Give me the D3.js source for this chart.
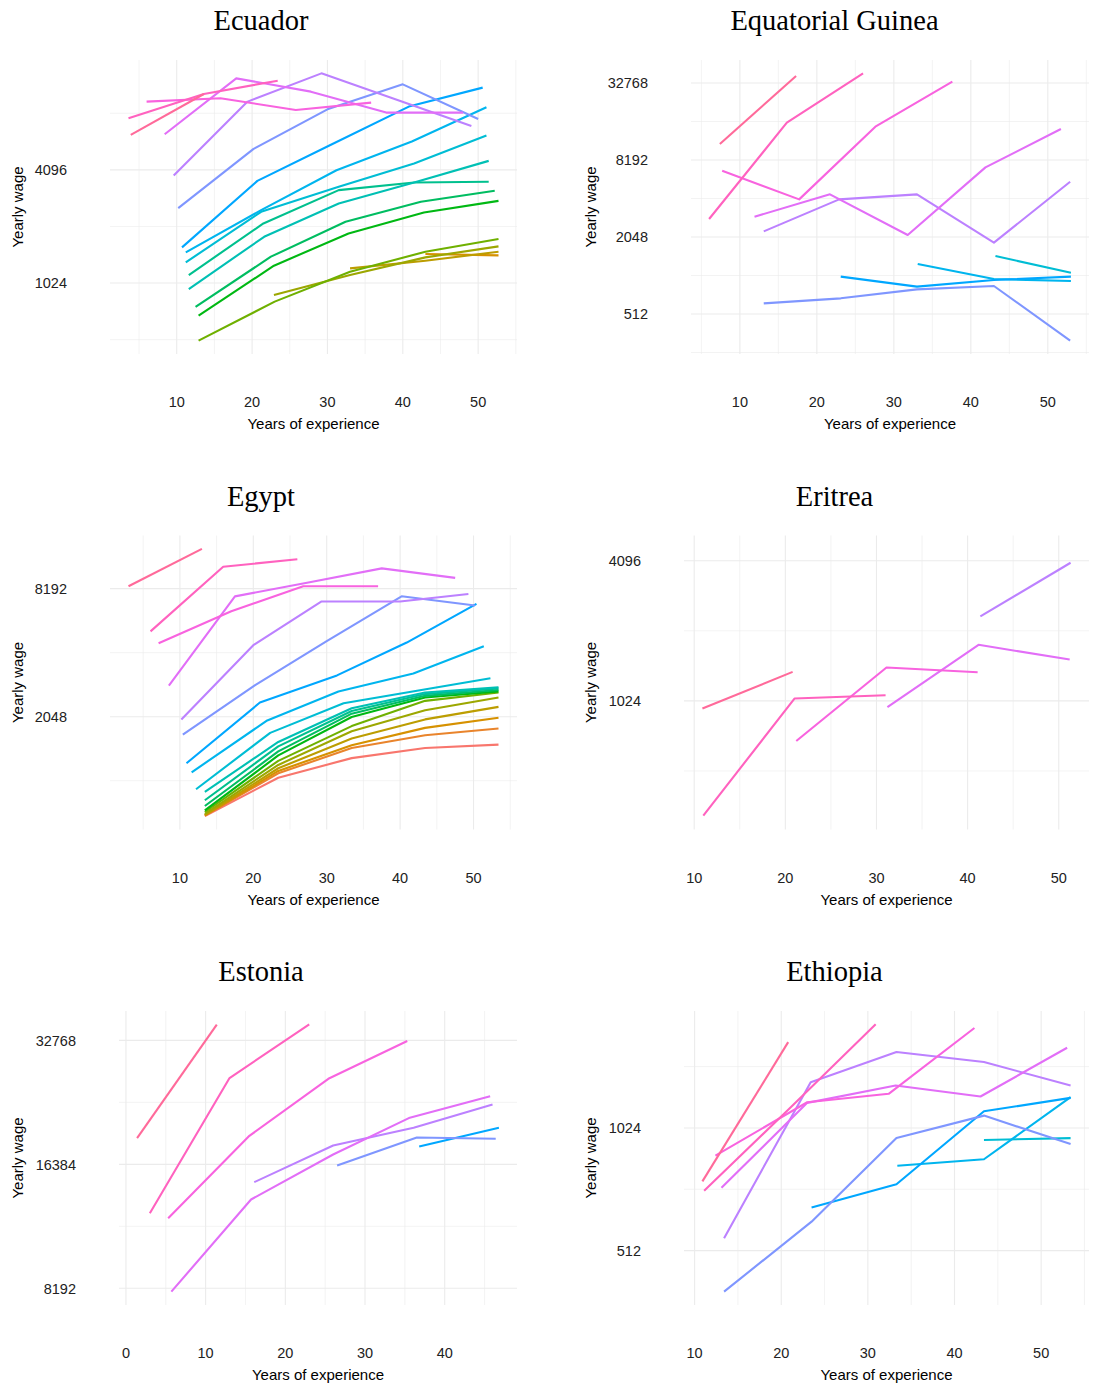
<!DOCTYPE html>
<html>
<head>
<meta charset="utf-8">
<script src="https://cdn.jsdelivr.net/npm/d3@7"></script>
<style>
  body { margin: 0; background: #fff; }
  svg text { font-family: "Liberation Sans", Arial, sans-serif; }
  .title { font-family: "Liberation Serif", "DejaVu Serif", serif; }
</style>
</head>
<body>
<svg id="chart" width="1095" height="1389"></svg>
<script>
// cohorts are coloured with the default ggplot hue palette
const nCohorts = 19

// each cohort: years of experience and yearly wage at each survey
const ecuador = [
  { cohort: 2, exp: [43.0, 52.7], wage: [1461, 1437] },
  { cohort: 3, exp: [33.0, 43.0, 52.7], wage: [1226, 1347, 1503] },
  { cohort: 4, exp: [22.9, 33.0, 43.0, 52.7], wage: [885, 1130, 1403, 1605] },
  { cohort: 5, exp: [12.9, 23.0, 33.0, 43.0, 52.7], wage: [506, 816, 1177, 1503, 1755] },
  { cohort: 6, exp: [12.9, 22.9, 32.8, 42.8, 52.7], wage: [687, 1267, 1881, 2432, 2803] },
  { cohort: 7, exp: [12.5, 22.5, 32.4, 42.4, 52.2], wage: [764, 1415, 2169, 2771, 3169] },
  { cohort: 8, exp: [11.6, 21.5, 31.5, 41.5, 51.4], wage: [1130, 2126, 3196, 3509, 3539] },
  { cohort: 9, exp: [11.6, 21.6, 31.5, 41.5, 51.4], wage: [952, 1805, 2714, 3509, 4573] },
  { cohort: 10, exp: [11.2, 21.2, 31.5, 41.5, 51.1], wage: [1320, 2451, 3327, 4427, 6234] },
  { cohort: 11, exp: [11.2, 21.2, 31.2, 41.2, 51.1], wage: [1491, 2502, 4079, 5793, 8816] },
  { cohort: 12, exp: [10.7, 20.7, 30.8, 40.8, 50.6], wage: [1585, 3581, 5658, 8890, 11213] },
  { cohort: 13, exp: [10.2, 20.2, 30.0, 40.0, 50.0], wage: [2566, 5298, 8599, 11674, 7643] },
  { cohort: 14, exp: [9.6, 19.4, 29.2, 39.2, 49.1], wage: [3822, 9450, 13355, 9675, 7019] },
  { cohort: 15, exp: [8.4, 17.9, 27.8, 37.8, 48.0], wage: [6339, 12564, 10675, 8260, 8260] },
  { cohort: 16, exp: [6.0, 15.8, 25.8, 35.8], wage: [9450, 9843, 8534, 9333] },
  { cohort: 17, exp: [3.6, 13.6, 23.4], wage: [7707, 10380, 12212] },
  { cohort: 18, exp: [3.9, 13.6], wage: [6287, 10370] }
]

const eqGuinea = [
  { cohort: 10, exp: [43.2, 53.0], wage: [1454, 1078] },
  { cohort: 11, exp: [33.1, 43.0, 53.0], wage: [1260, 961, 927] },
  { cohort: 12, exp: [23.1, 33.0, 43.0, 53.0], wage: [1003, 838, 944, 1003] },
  { cohort: 13, exp: [13.1, 23.1, 33.0, 43.0, 52.9], wage: [620, 679, 798, 848, 317] },
  { cohort: 14, exp: [13.1, 22.9, 33.0, 43.0, 52.9], wage: [2268, 4034, 4415, 1850, 5545] },
  { cohort: 15, exp: [11.9, 21.7, 31.8, 41.9, 51.7], wage: [2953, 4415, 2123, 7181, 14312] },
  { cohort: 16, exp: [7.7, 17.7, 27.6, 37.6], wage: [6761, 4034, 14931, 33574] },
  { cohort: 17, exp: [6.0, 16.1, 26.0], wage: [2833, 16046, 38998] },
  { cohort: 18, exp: [7.4, 17.3], wage: [10930, 37175] }
]

const egypt = [
  { cohort: 0, exp: [13.4, 23.4, 33.4, 43.4, 53.4], wage: [698, 1058, 1308, 1459, 1513] },
  { cohort: 1, exp: [13.4, 23.4, 33.4, 43.4, 53.4], wage: [703, 1110, 1459, 1676, 1803] },
  { cohort: 2, exp: [13.4, 23.4, 33.4, 43.4, 53.4], wage: [703, 1139, 1502, 1815, 2025] },
  { cohort: 3, exp: [13.4, 23.4, 33.4, 43.4, 53.4], wage: [708, 1172, 1616, 1989, 2277] },
  { cohort: 4, exp: [13.4, 23.4, 33.4, 43.4, 53.4], wage: [716, 1215, 1751, 2195, 2521] },
  { cohort: 5, exp: [13.4, 23.4, 33.4, 43.4, 53.4], wage: [730, 1270, 1850, 2431, 2663] },
  { cohort: 6, exp: [13.4, 23.4, 33.4, 43.4, 53.4], wage: [743, 1347, 2041, 2521, 2693] },
  { cohort: 7, exp: [13.4, 23.4, 33.4, 43.4, 53.4], wage: [779, 1407, 2116, 2567, 2732] },
  { cohort: 8, exp: [13.4, 23.4, 33.4, 43.4, 53.4], wage: [829, 1486, 2178, 2616, 2782] },
  { cohort: 9, exp: [13.4, 23.4, 33.4, 43.4, 53.4], wage: [908, 1558, 2244, 2663, 2813] },
  { cohort: 10, exp: [12.2, 22.3, 32.3, 42.3, 52.3], wage: [934, 1719, 2369, 2712, 3104] },
  { cohort: 11, exp: [11.6, 21.9, 31.6, 41.8, 51.4], wage: [1122, 1967, 2693, 3267, 4390] },
  { cohort: 12, exp: [10.9, 20.9, 31.4, 40.9, 50.4], wage: [1238, 2387, 3202, 4570, 6951] },
  { cohort: 13, exp: [10.4, 20.2, 30.0, 40.2, 50.2], wage: [1687, 2876, 4640, 7538, 6827] },
  { cohort: 14, exp: [10.2, 20.0, 29.3, 40.0, 49.3], wage: [1989, 4439, 7132, 7132, 7728] },
  { cohort: 15, exp: [8.5, 17.5, 27.5, 37.5, 47.5], wage: [2864, 7533, 8761, 10198, 9204] },
  { cohort: 16, exp: [7.1, 17.0, 26.8, 37.0], wage: [4535, 6414, 8405, 8405] },
  { cohort: 17, exp: [6.0, 15.9, 26.0], wage: [5156, 10383, 11253] },
  { cohort: 18, exp: [3.0, 13.0], wage: [8405, 12599] }
]

const eritrea = [
  { cohort: 14, exp: [41.4, 51.3], wage: [2361, 4014] },
  { cohort: 15, exp: [31.2, 41.2, 51.2], wage: [962, 1783, 1541] },
  { cohort: 16, exp: [21.2, 31.1, 41.1], wage: [689, 1424, 1360] },
  { cohort: 17, exp: [11.0, 21.0, 31.0], wage: [329, 1048, 1083] },
  { cohort: 18, exp: [10.9, 20.8], wage: [949, 1364] }
]

const estonia = [
  { cohort: 12, exp: [36.8, 46.8], wage: [18103, 20100] },
  { cohort: 13, exp: [26.5, 36.5, 46.4], wage: [16282, 19043, 18899] },
  { cohort: 14, exp: [16.1, 26.0, 36.1, 46.0], wage: [14828, 18204, 20100, 22900] },
  { cohort: 15, exp: [5.7, 15.7, 26.0, 35.5, 45.7], wage: [8040, 13457, 17307, 21219, 23988] },
  { cohort: 16, exp: [5.3, 15.4, 25.4, 35.3], wage: [12119, 19150, 26434, 32655] },
  { cohort: 17, exp: [3.0, 13.0, 23.0], wage: [12468, 26544, 35835] },
  { cohort: 18, exp: [1.4, 11.4], wage: [18965, 35786] }
]

const ethiopia = [
  { cohort: 10, exp: [43.4, 53.4], wage: [957, 967] },
  { cohort: 11, exp: [33.4, 43.4, 53.4], wage: [827, 858, 1219] },
  { cohort: 12, exp: [23.5, 33.3, 43.4, 53.4], wage: [653, 745, 1125, 1214] },
  { cohort: 13, exp: [13.4, 23.5, 33.3, 43.4, 53.4], wage: [406, 603, 967, 1098, 935] },
  { cohort: 14, exp: [13.4, 23.4, 33.3, 43.4, 53.4], wage: [549, 1326, 1573, 1486, 1302] },
  { cohort: 15, exp: [13.1, 23.0, 33.2, 43.0, 53.0], wage: [730, 1180, 1302, 1223, 1611] },
  { cohort: 16, exp: [12.4, 23.0, 32.4, 42.3], wage: [876, 1184, 1242, 1802] },
  { cohort: 17, exp: [11.1, 21.1, 30.9], wage: [718, 1151, 1839] },
  { cohort: 18, exp: [10.9, 20.8], wage: [757, 1663] }
]

// tick labels
const xTicks = [10, 20, 30, 40, 50]
const xTicksEstonia = [0, 10, 20, 30, 40]
const yTicksEcuador = [1024, 4096]
const yTicksEqGuinea = [512, 2048, 8192, 32768]
const yTicksEgypt = [2048, 8192]
const yTicksEritrea = [1024, 4096]
const yTicksEstonia = [8192, 16384, 32768]
const yTicksEthiopia = [512, 1024]

const panels = [
  { name: "Ecuador", data: ecuador, row: 0, col: 0, left: 110, xt: xTicks, yt: yTicksEcuador },
  { name: "Equatorial Guinea", data: eqGuinea, row: 0, col: 1, left: 691, xt: xTicks, yt: yTicksEqGuinea },
  { name: "Egypt", data: egypt, row: 1, col: 0, left: 110, xt: xTicks, yt: yTicksEgypt },
  // eritrea's y range is wider than its drawn lines
  { name: "Eritrea", data: eritrea, row: 1, col: 1, left: 684, xt: xTicks, yt: yTicksEritrea, yLimits: [287, 5256] },
  { name: "Estonia", data: estonia, row: 2, col: 0, left: 119, xt: xTicksEstonia, yt: yTicksEstonia },
  { name: "Ethiopia", data: ethiopia, row: 2, col: 1, left: 684, xt: xTicks, yt: yTicksEthiopia }
]

// R's hcl() (polar LUV) so the colours match ggplot
function hclR(h, c, l) {
    var WY = 100, Wu = 0.1978398, Wv = 0.4683363
    var hr = h * Math.PI / 180
    var U = c * Math.cos(hr), V = c * Math.sin(hr)
    var Y = WY * (l > 7.999592 ? Math.pow((l + 16) / 116, 3) : l / 903.3)
    var u = U / (13 * l) + Wu
    var v = V / (13 * l) + Wv
    var X = 9 * Y * u / (4 * v)
    var Z = -X / 3 - 5 * Y + 3 * Y / v
    var gt = function (t) { return t > 0.00304 ? 1.055 * Math.pow(t, 1 / 2.4) - 0.055 : 12.92 * t }
    var r = gt((3.240479 * X - 1.537150 * Y - 0.498535 * Z) / WY)
    var g = gt((-0.969256 * X + 1.875992 * Y + 0.041556 * Z) / WY)
    var b = gt((0.055648 * X - 0.204043 * Y + 1.057311 * Z) / WY)
    var cl = function (t) { return Math.round(255 * Math.max(0, Math.min(1, t))) }
    return d3.rgb(cl(r), cl(g), cl(b)).formatHex()
}

const palette = d3.range(nCohorts).map(function (k) { return hclR(15 + 360 * k / nCohorts, 100, 65) })
const color = d3.scaleOrdinal().domain(d3.range(nCohorts)).range(palette)

const svg = d3.select("#chart")
const rowTop = [60, 535.5, 1011]
const plotH = 294
const colRight = [517, 1089]
const titleX = [261, 834.5]
const yTitleX = [23, 596]

panels.forEach(drawPanel)

function drawPanel(p) {
    var top = rowTop[p.row], bottom = top + plotH
    var left = p.left, right = colRight[p.col]

    // ggplot style 5% expansion
    var xe = d3.extent(p.data.flatMap(function (d) { return d.exp }))
    var xpad = (xe[1] - xe[0]) * 0.05
    var x = d3.scaleLinear().domain([xe[0] - xpad, xe[1] + xpad]).range([left, right])

    var ye = d3.extent(p.data.flatMap(function (d) { return d.wage })).map(Math.log2)
    var ypad = (ye[1] - ye[0]) * 0.05
    var yd = p.yLimits ? p.yLimits : [Math.pow(2, ye[0] - ypad), Math.pow(2, ye[1] + ypad)]
    var y = d3.scaleLog().base(2).domain(yd).range([bottom, top])

    var g = svg.append("g")

    // minor grid
    var xd = x.domain()
    var xMinor = []
    p.xt.forEach(function (t) { xMinor.push(t - 5, t + 5) })
    xMinor = Array.from(new Set(xMinor)).filter(function (t) { return t >= xd[0] && t <= xd[1] })
    var ly = p.yt.map(Math.log2)
    var step = ly[1] - ly[0]
    var yMinor = []
    ly.forEach(function (t) { yMinor.push(t - step / 2, t + step / 2) })
    yMinor = Array.from(new Set(yMinor)).map(function (t) { return Math.pow(2, t) })
        .filter(function (t) { return t >= yd[0] && t <= yd[1] })

    g.selectAll(".xminor").data(xMinor).enter().append("line")
        .attr("x1", function (d) { return x(d) }).attr("x2", function (d) { return x(d) })
        .attr("y1", top).attr("y2", bottom)
        .attr("stroke", "#ebebeb").attr("stroke-width", 0.6)
    g.selectAll(".yminor").data(yMinor).enter().append("line")
        .attr("x1", left).attr("x2", right)
        .attr("y1", function (d) { return y(d) }).attr("y2", function (d) { return y(d) })
        .attr("stroke", "#ebebeb").attr("stroke-width", 0.6)

    // major grid
    g.selectAll(".xmajor").data(p.xt).enter().append("line")
        .attr("x1", function (d) { return x(d) }).attr("x2", function (d) { return x(d) })
        .attr("y1", top).attr("y2", bottom)
        .attr("stroke", "#ebebeb").attr("stroke-width", 1.1)
    g.selectAll(".ymajor").data(p.yt).enter().append("line")
        .attr("x1", left).attr("x2", right)
        .attr("y1", function (d) { return y(d) }).attr("y2", function (d) { return y(d) })
        .attr("stroke", "#ebebeb").attr("stroke-width", 1.1)

    // cohort lines
    var line = d3.line()
        .x(function (d) { return x(d[0]) })
        .y(function (d) { return y(d[1]) })
    g.selectAll(".cohort").data(p.data).enter().append("path")
        .attr("d", function (d) { return line(d3.zip(d.exp, d.wage)) })
        .attr("fill", "none")
        .attr("stroke", function (d) { return color(d.cohort) })
        .attr("stroke-width", 2.1)
        .attr("stroke-linejoin", "round")

    // tick labels
    g.selectAll(".xlab").data(p.xt).enter().append("text")
        .attr("x", function (d) { return x(d) })
        .attr("y", bottom + 53)
        .attr("text-anchor", "middle")
        .attr("font-size", "14.5px")
        .attr("fill", "#222")
        .text(function (d) { return d })
    g.selectAll(".ylab").data(p.yt).enter().append("text")
        .attr("x", left - 43)
        .attr("y", function (d) { return y(d) })
        .attr("dy", "0.36em")
        .attr("text-anchor", "end")
        .attr("font-size", "14.5px")
        .attr("fill", "#222")
        .text(function (d) { return d })

    // axis titles
    g.append("text")
        .attr("x", (left + right) / 2)
        .attr("y", bottom + 75)
        .attr("text-anchor", "middle")
        .attr("font-size", "15px")
        .attr("fill", "#000")
        .text("Years of experience")
    g.append("text")
        .attr("transform", "translate(" + yTitleX[p.col] + "," + (top + bottom) / 2 + ")rotate(-90)")
        .attr("text-anchor", "middle")
        .attr("font-size", "15px")
        .attr("fill", "#000")
        .text("Yearly wage")

    // panel title
    g.append("text")
        .attr("class", "title")
        .attr("x", titleX[p.col])
        .attr("y", 30 + p.row * 475.5)
        .attr("text-anchor", "middle")
        .attr("font-size", "28.5px")
        .attr("fill", "#000")
        .text(p.name)
}
</script>
</body>
</html>
